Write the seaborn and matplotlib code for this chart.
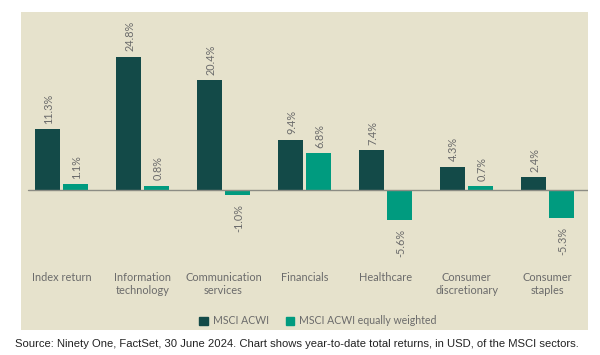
import matplotlib
matplotlib.use("Agg")
import matplotlib.pyplot as plt
from matplotlib.patches import Rectangle
import pandas as pd
import seaborn as sns

# data
sectors = ["Index return", "Information\ntechnology", "Communication\nservices",
           "Financials", "Healthcare", "Consumer\ndiscretionary", "Consumer\nstaples"]
acwi = [11.3, 24.8, 20.4, 9.4, 7.4, 4.3, 2.4]
acwi_eq = [1.1, 0.8, -1.0, 6.8, -5.6, 0.7, -5.3]
series = ["MSCI ACWI", "MSCI ACWI equally weighted"]

dark = "#134a48"
teal = "#009b7f"
panel = "#e6e2cc"
grey = "#6b6b6b"

df = pd.DataFrame({
    "sector": sectors * 2,
    "ret": acwi + acwi_eq,
    "series": [series[0]] * len(sectors) + [series[1]] * len(sectors),
})

sns.set_style("white")
plt.rcParams["font.family"] = ["Lato", "DejaVu Sans"]

W, H = 600, 355
fig = plt.figure(figsize=(6, 3.55), dpi=100)
fig.patch.set_facecolor("white")

# beige panel behind everything
bg = fig.add_axes([21 / W, 1 - 330 / H, 567 / W, 318 / H], zorder=-5)
bg.set_facecolor(panel)
bg.set_xticks([])
bg.set_yticks([])
for s in bg.spines.values():
    s.set_visible(False)

# axes from y=12px to y=262px, baseline at y=190px, 5.37 px per %
top_px, bot_px, base_px, scale = 12, 262, 190, 5.37
ax = fig.add_axes([21 / W, 1 - bot_px / H, 567 / W, (bot_px - top_px) / H])
ax.patch.set_alpha(0)

sns.barplot(data=df, x="sector", y="ret", hue="series", palette=[dark, teal],
            width=0.7, gap=0.12, ax=ax, legend=False, saturation=1,
            edgecolor="none", linewidth=0)

ax.set_ylim(-(bot_px - base_px) / scale, (base_px - top_px) / scale)
ax.set_xlim(-0.5, len(sectors) - 0.5)
ax.axhline(0, color="#8c8c84", lw=1, xmin=7 / 567, xmax=1, zorder=1)

for cont in ax.containers:
    for bar in cont:
        v = bar.get_height()
        x = bar.get_x() + bar.get_width() / 2
        ax.annotate(f"{v:.1f}%", (x, v), xytext=(1, 4 if v >= 0 else -6),
                    textcoords="offset points", rotation=90, ha="center",
                    va="bottom" if v >= 0 else "top", fontsize=7.8, color=grey)

for s in ax.spines.values():
    s.set_visible(False)
ax.set_yticks([])
ax.set_xlabel("")
ax.set_ylabel("")
ax.tick_params(axis="x", length=0, pad=7, labelsize=7.9, labelcolor=grey)
ax.set_xticks(range(len(sectors)))
ax.set_xticklabels(sectors, linespacing=1.3)

handles = [Rectangle((0, 0), 1, 1, color=c) for c in (dark, teal)]
fig.legend(handles, series, loc="center", bbox_to_anchor=(318 / W, 1 - 321 / H),
           ncol=2, frameon=False, fontsize=7.6, handlelength=0.8, handleheight=0.8,
           handletextpad=0.5, columnspacing=1.6, labelcolor=grey)

fig.text(15 / W, 1 - 344 / H,
         "Source: Ninety One, FactSet, 30 June 2024. Chart shows year-to-date total returns, in USD, of the MSCI sectors.",
         fontsize=8.1, color="#222222", family="Liberation Sans", va="center")

fig.savefig("out.png", dpi=100)
